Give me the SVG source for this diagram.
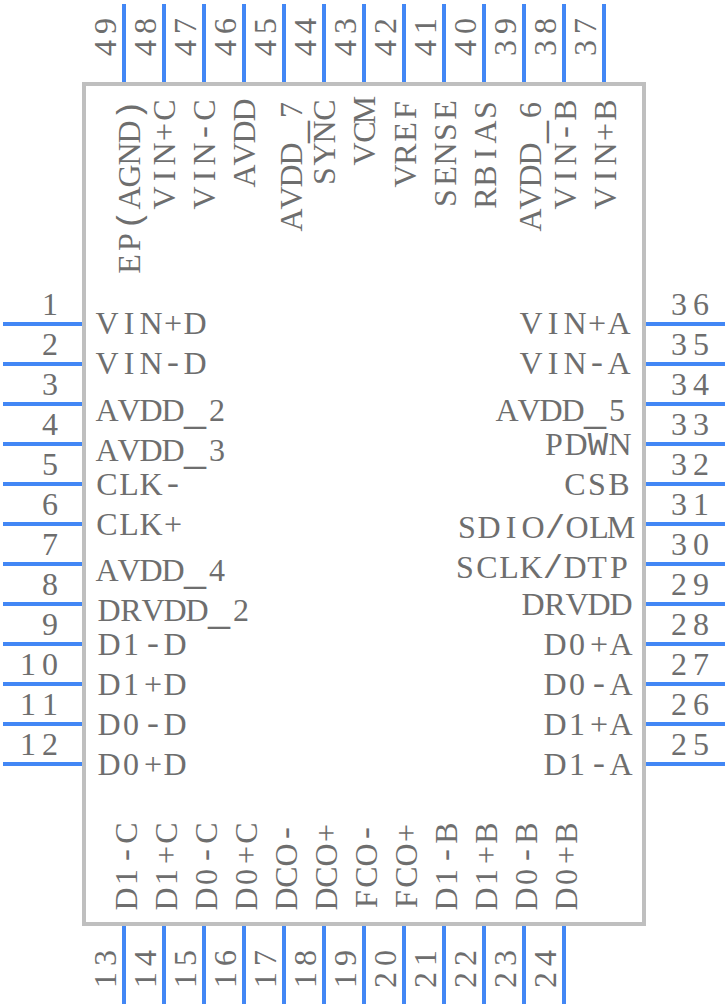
<svg xmlns="http://www.w3.org/2000/svg" width="728" height="1008" viewBox="0 0 728 1008">
<style>
text{font-family:"Liberation Serif",serif;font-size:32px;fill:#6e6e6e;text-anchor:middle}
.u{font-size:44px}
.m{font-family:"Liberation Mono",monospace;font-size:34px}
</style>
<rect width="728" height="1008" fill="#fff"/>
<g id="chip"><rect x="84" y="84" width="560" height="840" fill="none" stroke="#bfbfbf" stroke-width="4"/></g>
<g id="pins">
<path d="M3 324H82M3 364H82M3 404H82M3 444H82M3 484H82M3 524H82M3 564H82M3 604H82M3 644H82M3 684H82M3 724H82M3 764H82M646 324H725M646 364H725M646 404H725M646 444H725M646 484H725M646 524H725M646 564H725M646 604H725M646 644H725M646 684H725M646 724H725M646 764H725M124 4V82M164 4V82M204 4V82M244 4V82M284 4V82M324 4V82M364 4V82M404 4V82M444 4V82M484 4V82M524 4V82M564 4V82M604 4V82M124 926V1004M164 926V1004M204 926V1004M244 926V1004M284 926V1004M324 926V1004M364 926V1004M404 926V1004M444 926V1004M484 926V1004M524 926V1004M564 926V1004" fill="none" stroke="#4287f5" stroke-width="4"/>
</g>
<g id="pin-numbers">
<text transform="translate(39 315)" x="11">1</text><text transform="translate(39 355)" x="11">2</text><text transform="translate(39 395)" x="11">3</text><text transform="translate(39 435)" x="11">4</text><text transform="translate(39 475)" x="11">5</text><text transform="translate(39 515)" x="11">6</text><text transform="translate(39 555)" x="11">7</text><text transform="translate(39 595)" x="11">8</text><text transform="translate(39 635)" x="11">9</text><text transform="translate(17 675)" x="11 33">10</text><text transform="translate(17 715)" x="11 33">11</text><text transform="translate(17 755)" x="11 33">12</text>
<text transform="translate(668 315)" x="11 33">36</text><text transform="translate(668 355)" x="11 33">35</text><text transform="translate(668 395)" x="11 33">34</text><text transform="translate(668 435)" x="11 33">33</text><text transform="translate(668 475)" x="11 33">32</text><text transform="translate(668 515)" x="11 33">31</text><text transform="translate(668 555)" x="11 33">30</text><text transform="translate(668 595)" x="11 33">29</text><text transform="translate(668 635)" x="11 33">28</text><text transform="translate(668 675)" x="11 33">27</text><text transform="translate(668 715)" x="11 33">26</text><text transform="translate(668 755)" x="11 33">25</text>
<text transform="translate(116 59) rotate(-90)" x="11 33">49</text><text transform="translate(156 59) rotate(-90)" x="11 33">48</text><text transform="translate(196 59) rotate(-90)" x="11 33">47</text><text transform="translate(236 59) rotate(-90)" x="11 33">46</text><text transform="translate(276 59) rotate(-90)" x="11 33">45</text><text transform="translate(316 59) rotate(-90)" x="11 33">44</text><text transform="translate(356 59) rotate(-90)" x="11 33">43</text><text transform="translate(396 59) rotate(-90)" x="11 33">42</text><text transform="translate(436 59) rotate(-90)" x="11 33">41</text><text transform="translate(476 59) rotate(-90)" x="11 33">40</text><text transform="translate(516 59) rotate(-90)" x="11 33">39</text><text transform="translate(556 59) rotate(-90)" x="11 33">38</text><text transform="translate(596 59) rotate(-90)" x="11 33">37</text>
<text transform="translate(116 991) rotate(-90)" x="11 33">13</text><text transform="translate(156 991) rotate(-90)" x="11 33">14</text><text transform="translate(196 991) rotate(-90)" x="11 33">15</text><text transform="translate(236 991) rotate(-90)" x="11 33">16</text><text transform="translate(276 991) rotate(-90)" x="11 33">17</text><text transform="translate(316 991) rotate(-90)" x="11 33">18</text><text transform="translate(356 991) rotate(-90)" x="11 33">19</text><text transform="translate(396 991) rotate(-90)" x="11 33">20</text><text transform="translate(436 991) rotate(-90)" x="11 33">21</text><text transform="translate(476 991) rotate(-90)" x="11 33">22</text><text transform="translate(516 991) rotate(-90)" x="11 33">23</text><text transform="translate(556 991) rotate(-90)" x="11 33">24</text>
</g>
<g id="pin-names">
<text transform="translate(96 334)" x="11 33 55 77 99">VIN+D</text><text transform="translate(96 374)" x="11 33 55 77 99">VIN<tspan class="m">-</tspan>D</text>
<text transform="translate(96 421)" x="11 33 55 77">AVDD<tspan class="u" x="99" dy="2">_</tspan><tspan x="121" dy="-2">2</tspan></text>
<text transform="translate(96 461)" x="11 33 55 77">AVDD<tspan class="u" x="99" dy="2">_</tspan><tspan x="121" dy="-2">3</tspan></text>
<text transform="translate(96 495)" x="11 33 55 77">CLK<tspan class="m">-</tspan></text><text transform="translate(96 535)" x="11 33 55 77">CLK+</text>
<text transform="translate(96 581)" x="11 33 55 77">AVDD<tspan class="u" x="99" dy="2">_</tspan><tspan x="121" dy="-2">4</tspan></text>
<text transform="translate(98 621)" x="11 33 55 77 99">DRVDD<tspan class="u" x="121" dy="2">_</tspan><tspan x="143" dy="-2">2</tspan></text>
<text transform="translate(98 655)" x="11 33 55 77">D1<tspan class="m">-</tspan>D</text><text transform="translate(98 695)" x="11 33 55 77">D1+D</text><text transform="translate(98 735)" x="11 33 55 77">D0<tspan class="m">-</tspan>D</text><text transform="translate(98 775)" x="11 33 55 77">D0+D</text>
<text transform="translate(520 334)" x="11 33 55 77 99">VIN+A</text><text transform="translate(520 374)" x="11 33 55 77 99">VIN<tspan class="m">-</tspan>A</text>
<text transform="translate(496 421)" x="11 33 55 77">AVDD<tspan class="u" x="99" dy="2">_</tspan><tspan x="121" dy="-2">5</tspan></text>
<text transform="translate(543 455)" x="11 33 55 77">PD<tspan class="m">W</tspan>N</text><text transform="translate(564 495)" x="11 33 55">CSB</text><text transform="translate(456 538)" x="11 33 55 77 99 121 143 165">SDIO<tspan class="m">/</tspan>OLM</text><text transform="translate(454 578)" x="11 33 55 77 99 121 143 165">SCLK<tspan class="m">/</tspan>DTP</text><text transform="translate(522 615)" x="11 33 55 77 99">DRVDD</text>
<text transform="translate(544 655)" x="11 33 55 77">D0+A</text><text transform="translate(544 695)" x="11 33 55 77">D0<tspan class="m">-</tspan>A</text><text transform="translate(544 735)" x="11 33 55 77">D1+A</text><text transform="translate(544 775)" x="11 33 55 77">D1<tspan class="m">-</tspan>A</text>
<text transform="translate(140 275) rotate(-90)" x="11 33 55 77 99 121 143 165">EP<tspan class="m">(</tspan>AGND<tspan class="m">)</tspan></text><text transform="translate(175 209) rotate(-90)" x="11 33 55 77 99">VIN+C</text><text transform="translate(215 209) rotate(-90)" x="11 33 55 77 99">VIN<tspan class="m">-</tspan>C</text><text transform="translate(255 187) rotate(-90)" x="11 33 55 77">AVDD</text>
<text transform="translate(302 231) rotate(-90)" x="11 33 55 77">AVDD<tspan class="u" x="99" dy="2">_</tspan><tspan x="121" dy="-2">7</tspan></text>
<text transform="translate(335 187) rotate(-90)" x="11 33 55 77">SYNC</text><text transform="translate(375 165) rotate(-90)" x="11 33 55">VCM</text><text transform="translate(416 187) rotate(-90)" x="11 33 55 77">VREF</text><text transform="translate(456 209) rotate(-90)" x="11 33 55 77 99">SENSE</text><text transform="translate(496 209) rotate(-90)" x="11 33 55 77 99">RBIAS</text>
<text transform="translate(541 231) rotate(-90)" x="11 33 55 77">AVDD<tspan class="u" x="99" dy="2">_</tspan><tspan x="121" dy="-2">6</tspan></text>
<text transform="translate(576 209) rotate(-90)" x="11 33 55 77 99">VIN<tspan class="m">-</tspan>B</text><text transform="translate(616 209) rotate(-90)" x="11 33 55 77 99">VIN+B</text>
<text transform="translate(137 910) rotate(-90)" x="11 33 55 77">D1<tspan class="m">-</tspan>C</text><text transform="translate(177 910) rotate(-90)" x="11 33 55 77">D1+C</text><text transform="translate(217 910) rotate(-90)" x="11 33 55 77">D0<tspan class="m">-</tspan>C</text><text transform="translate(257 910) rotate(-90)" x="11 33 55 77">D0+C</text><text transform="translate(297 910) rotate(-90)" x="11 33 55 77">DCO<tspan class="m">-</tspan></text><text transform="translate(337 910) rotate(-90)" x="11 33 55 77">DCO+</text><text transform="translate(377 910) rotate(-90)" x="11 33 55 77">FCO<tspan class="m">-</tspan></text><text transform="translate(417 910) rotate(-90)" x="11 33 55 77">FCO+</text><text transform="translate(457 910) rotate(-90)" x="11 33 55 77">D1<tspan class="m">-</tspan>B</text><text transform="translate(497 910) rotate(-90)" x="11 33 55 77">D1+B</text><text transform="translate(537 910) rotate(-90)" x="11 33 55 77">D0<tspan class="m">-</tspan>B</text><text transform="translate(577 910) rotate(-90)" x="11 33 55 77">D0+B</text>
</g>
</svg>
